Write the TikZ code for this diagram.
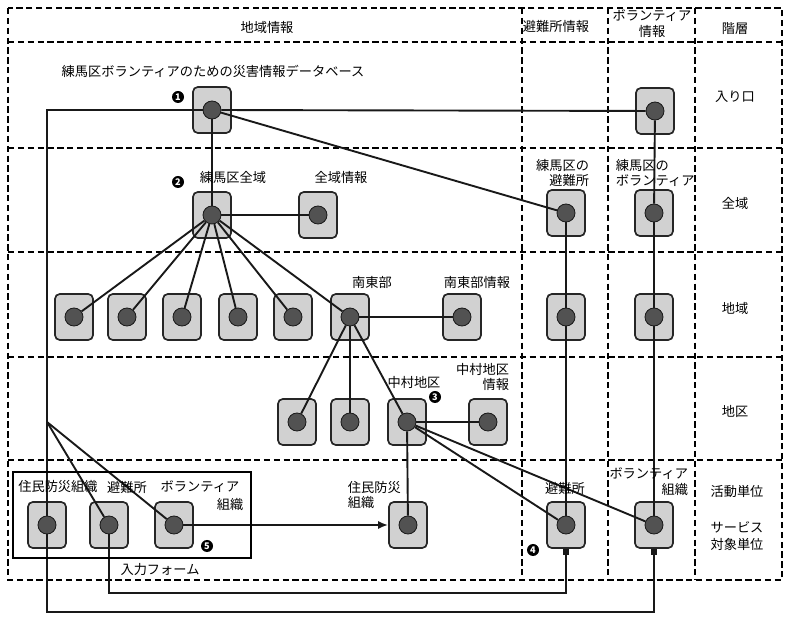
\documentclass[tikz,border=0pt]{standalone}
\usepackage{fontspec}
\setmainfont{Noto Sans CJK JP}
\usetikzlibrary{arrows.meta,backgrounds}
\pgfdeclarelayer{boxes}
\pgfsetlayers{boxes,background,main}

\tikzset{
  cell/.style={draw=black!85, line width=1.2pt, fill=black!18, rounded corners=0.12cm,
    minimum width=0.95cm, minimum height=1.15cm, inner sep=0pt},
  unit/.style={circle, draw=black!90, line width=0.6pt, fill=black!68,
    minimum size=0.45cm, inner sep=0pt},
  badge/.style={circle, fill=black, text=white, inner sep=0pt, minimum size=0.3cm,
    font=\fontsize{6.5}{6.5}\selectfont\bfseries},
  cellline/.style={line width=1.1pt, dash pattern=on 4.5pt off 2.5pt},
  link/.style={line width=1.35pt, black!90}
}

\begin{document}
\begin{tikzpicture}[x=0.025cm, y=-0.025cm, font=\fontsize{9.4}{11.3}\selectfont]
  \useasboundingbox (0,0) rectangle (796,628);

  % table frame
  \begin{pgfonlayer}{background}
    \draw[cellline] (8,8) rectangle (782,580);
    \foreach \y in {42,148,252,357,460}
      \draw[cellline] (8,\y) -- (782,\y);
    \foreach \x in {522,608,695}
      \draw[cellline] (\x,8) -- (\x,580);
  \end{pgfonlayer}

  % column and row headings
  \node (h-area) at (267,27) {地域情報};
  \node (h-shelter) at (556,27) {避難所情報};
  \node[align=center] (h-vol) at (652,24) {ボランティア\\情報};
  \node (h-level) at (735,29) {階層};
  \node (r-entry) at (735,97) {入り口};
  \node (r-all) at (735,203) {全域};
  \node (r-region) at (735,308) {地域};
  \node (r-district) at (735,411) {地区};
  \node (r-unit) at (737,492) {活動単位};
  \node[align=center] (r-service) at (737,536) {サービス\\[1pt]対象単位};

  % information units
  \begin{scope}[every node/.style={unit}]
    \node (db) at (212,110) {};
    \node (vtop) at (655,111) {};
    \node (zen) at (212,215) {};
    \node (zeninfo) at (318,215) {};
    \node (shz) at (566,213) {};
    \node (vzen) at (654,213) {};
    \node (a1) at (74,317) {};
    \node (a2) at (127,317) {};
    \node (a3) at (182,317) {};
    \node (a4) at (238,317) {};
    \node (a5) at (293,317) {};
    \node (nantou) at (350,317) {};
    \node (ntinfo) at (462,317) {};
    \node (sha) at (566,317) {};
    \node (va) at (654,317) {};
    \node (d1) at (297,422) {};
    \node (d2) at (350,422) {};
    \node (nakamura) at (407,422) {};
    \node (nkinfo) at (488,422) {};
    \node (in1) at (47,525) {};
    \node (in2) at (109,525) {};
    \node (in3) at (174,525) {};
    \node (jbo) at (408,525) {};
    \node (shb) at (566,525) {};
    \node (vorg) at (654,525) {};
  \end{scope}

  \begin{pgfonlayer}{boxes}
    \foreach \n in {db,vtop,zen,zeninfo,shz,vzen,a1,a2,a3,a4,a5,nantou,ntinfo,sha,va,
                    d1,d2,nakamura,nkinfo,in1,in2,in3,jbo,shb,vorg}
      \node[cell] (\n-box) at (\n) {};
  \end{pgfonlayer}

  % labels
  \node (l-title) at (213,71) {練馬区ボランティアのための災害情報データベース};
  \node (l-zen) at (233,177) {練馬区全域};
  \node (l-zeninfo) at (341,177) {全域情報};
  \node[align=right, anchor=east] (l-shz) at (594,173) {練馬区の\\避難所};
  \node[align=left, anchor=west] (l-vzen) at (611,173) {練馬区の\\ボランティア};
  \node (l-nantou) at (372,282) {南東部};
  \node (l-ntinfo) at (477,282) {南東部情報};
  \node (l-nakamura) at (414,382) {中村地区};
  \node[align=right, anchor=east] (l-nkinfo) at (514,377) {中村地区\\情報};
  \node (l-in1) at (58,487) {住民防災組織};
  \node (l-in2) at (127,487) {避難所};
  \node (l-in3) at (200,487) {ボランティア};
  \node (l-in3b) at (230,505) {組織};
  \node[align=left, anchor=west] (l-jbo) at (343,495) {住民防災\\組織};
  \node (l-shb) at (565,488) {避難所};
  \node[align=right, anchor=east] (l-vorg) at (693,482) {ボランティア\\組織};

  % input form
  \draw[line width=1.2pt] (13,472) rectangle (251,558);
  \node (l-form) at (160,570) {入力フォーム};

  \node[badge] (b1) at (178,97) {1};
  \node[badge] (b2) at (178,182) {2};
  \node[badge] (b3) at (435,397) {3};
  \node[badge] (b4) at (533,550) {4};
  \node[badge] (b5) at (207,546) {5};

  \coordinate (split) at (47,422);
  \coordinate (low1) at (47,612);
  \coordinate (low2) at (109,593);

  % connections
  \begin{pgfonlayer}{background}
    \begin{scope}[link]
      \path (db) edge (vtop) edge (zen) edge (shz);
      \path (vtop) edge (vzen) (vzen) edge (va) (va) edge (vorg);
      \path (shz) edge (sha) (sha) edge (shb);
      \path (zen) edge (zeninfo);
      \foreach \n in {a1,a2,a3,a4,a5,nantou}
        \path (zen) edge (\n);
      \path (nantou) edge (ntinfo);
      \foreach \n in {d1,d2,nakamura}
        \path (nantou) edge (\n);
      \path (nakamura) edge (nkinfo) edge (jbo) edge (shb) edge (vorg);
      \draw (db) -| (split);
      \path (split) edge (in1) edge (in2) edge (in3);
      \draw[-{Latex[length=0.25cm,width=0.2cm]}] (in3) -- (jbo-box.west);
      \draw[-{Square[length=0.16cm,width=0.16cm]}] (in1) -- (low1) -| (vorg-box.south);
      \draw[-{Square[length=0.16cm,width=0.16cm]}] (in2) -- (low2) -| (shb-box.south);
    \end{scope}
  \end{pgfonlayer}
\end{tikzpicture}
\end{document}
